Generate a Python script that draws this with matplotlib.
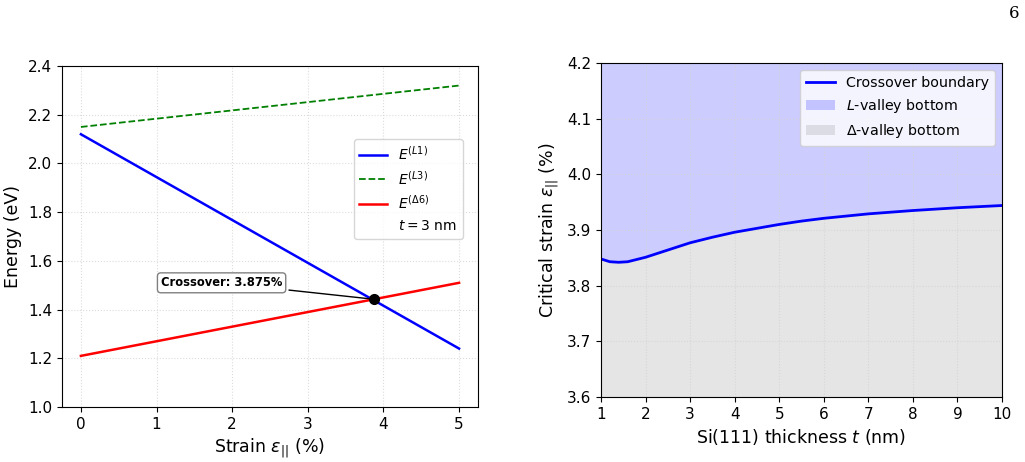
import matplotlib
matplotlib.use("Agg")
import matplotlib.pyplot as plt
import numpy as np

# --- left panel: band energies vs strain (t = 3 nm) ---
strain = [0, 5]
e_L1 = [2.12, 1.24]
e_L3 = [2.15, 2.32]
e_D6 = [1.21, 1.51]
x_cross = 3.875

# --- right panel: crossover boundary vs thickness ---
thick = [1.0, 1.2, 1.4, 1.6, 2.0, 2.5, 3.0, 3.5, 4.0, 4.5, 5.0,
         5.5, 6.0, 6.5, 7.0, 7.5, 8.0, 9.0, 10.0]
crit = [3.848, 3.843, 3.842, 3.843, 3.851, 3.864, 3.877, 3.887, 3.896,
        3.903, 3.910, 3.916, 3.921, 3.925, 3.929, 3.932, 3.935, 3.940,
        3.944]

fig = plt.figure(figsize=(10.25, 4.62), dpi=100)
ax1 = fig.add_axes([0.0605, 0.119, 0.4058, 0.738])
ax2 = fig.add_axes([0.5863, 0.1407, 0.3913, 0.7229])

ax1.plot(strain, e_L1, color="blue", lw=1.8, label=r"$E^{(L1)}$")
ax1.plot(strain, e_L3, color="green", lw=1.3, ls="--", label=r"$E^{(L3)}$")
ax1.plot(strain, e_D6, color="red", lw=1.8, label=r"$E^{(\Delta 6)}$")
ax1.plot([], [], " ", label=r"$t = 3$ nm")
y_cross = np.interp(x_cross, strain, e_D6)
ax1.plot(x_cross, y_cross, "o", color="black", ms=7, zorder=5)
ax1.annotate(f"Crossover: {x_cross:.3f}%", xy=(x_cross, y_cross),
             xytext=(1.86, 1.51), ha="center", va="center",
             fontsize=8.3, fontweight="bold",
             bbox=dict(boxstyle="round,pad=0.3", fc="white", ec="gray"),
             arrowprops=dict(arrowstyle="-", color="black", lw=1))
ax1.set_ylim(1.0, 2.4)
ax1.set_xlabel(r"Strain $\varepsilon_{||}$ (%)", fontsize=12.5)
ax1.set_ylabel("Energy (eV)", fontsize=12.5)
ax1.grid(True, ls=":", color="lightgray", alpha=0.8)
ax1.tick_params(labelsize=11)
ax1.legend(loc="center right", bbox_to_anchor=(0.98, 0.64), fontsize=10)

ax2.fill_between(thick, crit, 4.2, color="blue", alpha=0.2,
                 lw=0, label=r"$L$-valley bottom")
ax2.fill_between(thick, 3.6, crit, color="gray", alpha=0.2,
                 lw=0, label=r"$\Delta$-valley bottom")
ax2.plot(thick, crit, color="blue", lw=2, label="Crossover boundary")
ax2.set_xlim(1, 10)
ax2.set_ylim(3.6, 4.2)
ax2.set_xticks(range(1, 11))
ax2.set_xlabel(r"Si(111) thickness $t$ (nm)", fontsize=12.5)
ax2.set_ylabel(r"Critical strain $\varepsilon_{||}$ (%)", fontsize=12.5)
ax2.grid(True, ls=":", color="lightgray", alpha=0.8)
ax2.tick_params(labelsize=11)
h, l = ax2.get_legend_handles_labels()
ax2.legend([h[2], h[0], h[1]], [l[2], l[0], l[1]], loc="upper right",
           fontsize=10.3)

fig.text(0.995, 0.97, "6", family="DejaVu Serif", fontsize=12,
         ha="right", va="center")

fig.savefig("out.png", dpi=100)
